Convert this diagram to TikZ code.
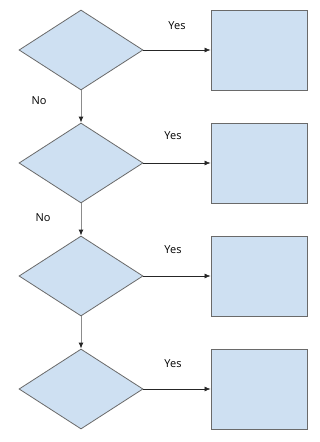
\documentclass[tikz,border=0pt]{standalone}
\usepackage{fontspec}
\setmainfont{Open Sans}
\usetikzlibrary{shapes.geometric,arrows.meta}
\definecolor{boxfill}{HTML}{CEE0F2}
\definecolor{boxline}{HTML}{6A6A6A}
\tikzset{
  dec/.style={diamond,draw=boxline,fill=boxfill,line width=0.8pt,minimum width=124pt,minimum height=80pt,inner sep=0pt,aspect=1.55},
  act/.style={rectangle,draw=boxline,fill=boxfill,line width=1pt,minimum width=96pt,minimum height=80pt,inner sep=0pt},
  yesarr/.style={draw=black!85,line width=0.6pt,-{Latex[length=6pt,width=5pt]}},
  noarr/.style={draw=black!45,line width=1pt,-{Latex[length=6pt,width=5pt,fill=black!85,color=black!85]}},
  lbl/.style={font=\fontsize{11}{13}\selectfont,inner sep=0pt}
}
\begin{document}
\begin{tikzpicture}[x=1pt,y=1pt]
\useasboundingbox[fill=white] (0,0) rectangle (319,-442);
\node[dec] (d1) at (81,-50) {};
\node[dec] (d2) at (81,-163) {};
\node[dec] (d3) at (81,-276) {};
\node[dec] (d4) at (81,-389) {};
\node[act] (r1) at (259,-50) {};
\node[act] (r2) at (259,-163) {};
\node[act] (r3) at (259,-276) {};
\node[act] (r4) at (259,-389) {};
\draw[yesarr] (d1.east) -- (r1.west);
\draw[yesarr] (d2.east) -- (r2.west);
\draw[yesarr] (d3.east) -- (r3.west);
\draw[yesarr] (d4.east) -- (r4.west);
\draw[noarr] (d1.south) -- (d2.north);
\draw[noarr] (d2.south) -- (d3.north);
\draw[noarr] (d3.south) -- (d4.north);
\node[lbl] (y1) at (177,-26) {Yes};
\node[lbl] (y2) at (173,-136) {Yes};
\node[lbl] (y3) at (173,-250) {Yes};
\node[lbl] (y4) at (173,-364) {Yes};
\node[lbl] (n1) at (39,-101) {No};
\node[lbl] (n2) at (43,-218) {No};
\end{tikzpicture}
\end{document}
